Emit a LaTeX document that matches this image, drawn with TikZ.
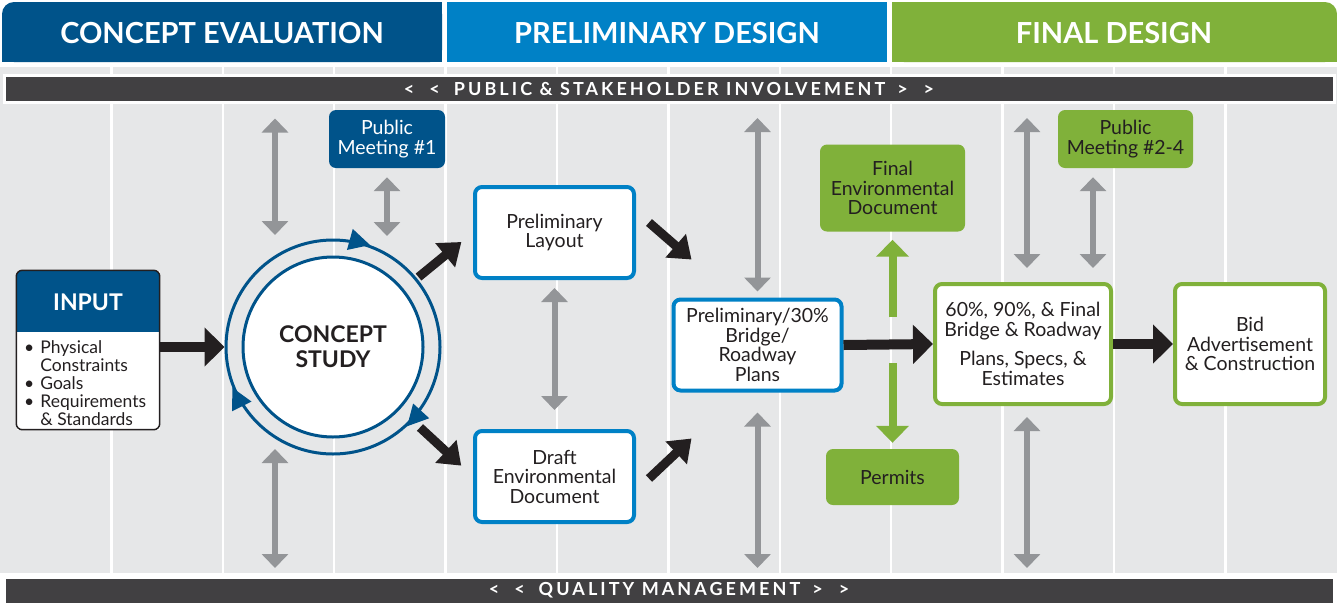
\documentclass[tikz,border=0pt]{standalone}
\usepackage{fontspec}
\setmainfont{Lato}
\newfontfamily\barfont{Lato}[LetterSpace=17]
\usetikzlibrary{positioning,arrows.meta}

\definecolor{cdark}{HTML}{00538A}
\definecolor{cmid}{HTML}{0081C6}
\definecolor{cgreen}{HTML}{80B13A}
\definecolor{cbar}{HTML}{414042}
\definecolor{cbg}{HTML}{E6E7E8}
\definecolor{cgray}{HTML}{939598}
\definecolor{ctext}{HTML}{231F20}

\begin{document}
\begin{tikzpicture}[x=1pt, y=-1pt,
    tabtext/.style={text=white, font=\bfseries\fontsize{29}{30}\selectfont},
    barnode/.style={rectangle, fill=cbar, draw=white, line width=3pt, minimum width=1330pt, minimum height=27pt, text=white, font=\barfont\bfseries\fontsize{18}{19}\selectfont},
    boxnode/.style={rectangle, rounded corners=7pt, fill=white, line width=4pt, align=center, text=ctext, inner sep=0pt, font=\fontsize{19.5}{19.5}\selectfont},
    bluenode/.style={boxnode, draw=cmid, minimum width=159pt, minimum height=91pt},
    greennode/.style={boxnode, draw=cgreen, minimum width=176pt, minimum height=120pt},
    fillnode/.style={rectangle, rounded corners=7pt, align=center, inner sep=0pt, font=\fontsize{19.5}{19.5}\selectfont},
    bigarrow/.style={draw=ctext, line width=10pt, -{Triangle[width=38pt, length=20pt]}},
    diagarrow/.style={draw=ctext, line width=9pt, -{Triangle[width=30pt, length=21pt]}},
    greenarrow/.style={draw=cgreen, line width=8pt, -{Triangle[width=32pt, length=17pt]}},
    twoway/.style={draw=cgray, line width=6pt, {Triangle[width=26pt, length=14pt]}-{Triangle[width=26pt, length=14pt]}},
    ringtip/.style={draw=cdark, line width=3pt, -{Triangle[width=21pt, length=21pt]}}]

    % background and columns
    \fill[white] (0,0) rectangle (1337,606);
    \useasboundingbox (0,0) rectangle (1337,606);
    \fill[cbg] (0,67) rectangle (1337,573);
    \foreach \k in {1,...,11}
        \draw[white, line width=2.5pt] ({111.4*\k},67) -- ({111.4*\k},573);

    % phase tabs
    \fill[cdark, rounded corners=12pt] (2,2) rectangle (442,62);
    \fill[cdark] (16,2) rectangle (442,62);
    \fill[cdark] (2,16) rectangle (442,62);
    \fill[cmid] (447,2) rectangle (887,62);
    \fill[cgreen, rounded corners=12pt] (892,2) rectangle (1337,62);
    \fill[cgreen] (892,2) rectangle (1323,62);
    \fill[cgreen] (892,16) rectangle (1337,62);
    \node[tabtext] (hconcept) at (222,33) {CONCEPT EVALUATION};
    \node[tabtext] (hprelim) at (667,33) {PRELIMINARY DESIGN};
    \node[tabtext] (hfinal) at (1114,33) {FINAL DESIGN};

    % bars
    \node[barnode] (pubbar) at (669,89) {<\hspace{15pt}<\hspace{14pt}PUBLIC \& STAKEHOLDER INVOLVEMENT\hspace{12pt}>\hspace{16pt}>};
    \node[barnode] (qualbar) at (669,590.5) {<\hspace{15pt}<\hspace{14pt}QUALITY MANAGEMENT\hspace{12pt}>\hspace{16pt}>};

    % input
    \node[rectangle, fill=white, minimum width=143pt, minimum height=159pt] (input) at (88,350) {};
    \begin{scope}
        \clip[rounded corners=6pt] (input.south west) rectangle (input.north east);
        \fill[cdark] (input.north west) rectangle ([yshift=-62pt]input.north east);
    \end{scope}
    \draw[ctext, line width=1.5pt, rounded corners=6pt] (input.south west) rectangle (input.north east);
    \node[text=white, font=\bfseries\fontsize{23}{24}\selectfont] (intitle) at (88,302) {INPUT};
    \node[anchor=north west, inner sep=0pt, text=ctext, font=\fontsize{17.5}{17.3}\selectfont] (inlist) at (24,340)
        {\begin{tabular}{@{}l@{\hspace{6pt}}l@{}}
            \textbullet & Physical\\
                        & Constraints\\
            \textbullet & Goals\\
            \textbullet & Requirements\\
                        & \& Standards
        \end{tabular}};

    % concept study
    \node[circle, draw=cdark, line width=3pt, minimum size=214pt, inner sep=0pt] (ring) at (333,347) {};
    \node[circle, draw=cdark, fill=white, line width=3pt, minimum size=180pt, align=center, text=ctext,
          font=\bfseries\fontsize{23}{25}\selectfont] (concept) at (ring.center) {CONCEPT\\STUDY};
    \draw[ringtip] (ring.79) -- (ring.70);
    \draw[ringtip] (ring.-38) -- (ring.-47);
    \draw[ringtip] (ring.211) -- (ring.202);

    \node[fillnode, fill=cdark, text=white, minimum width=116pt, minimum height=58pt] (pm1) at (387,139) {Public\\Meeting \#1};

    % preliminary design
    \node[bluenode] (layout) at (554.5,232.5) {Preliminary\\Layout};
    \node[bluenode, below=149pt of layout] (draft) {Draft\\Environmental\\Document};
    \node[bluenode, minimum width=168pt] (prelim) at (757.5,345) {Preliminary/30\%\\Bridge/\\Roadway\\Plans};

    % final design
    \node[fillnode, fill=cgreen, text=ctext, minimum width=145pt, minimum height=87pt] (fed) at (892.5,188) {Final\\Environmental\\Document};
    \node[fillnode, fill=cgreen, text=ctext, minimum width=133pt, minimum height=56pt] (permits) at (892.5,477) {Permits};
    \node[greennode] (box60) at (1023,344) {60\%, 90\%, \& Final\\Bridge \& Roadway\\[10pt]Plans, Specs, \&\\Estimates};
    \node[greennode, right=60pt of box60, minimum width=150pt] (bid) {Bid\\Advertisement\\\& Construction};
    \node[fillnode, fill=cgreen, text=ctext, minimum width=135pt, minimum height=58pt] (pm2) at (1125.5,139) {Public\\Meeting \#2-4};

    % flow arrows
    \draw[bigarrow] (input.east |- ring.west) -- (ring.west);
    \draw[diagarrow, shorten <=2pt, shorten >=15pt] (ring) -- (layout.west);
    \draw[diagarrow, shorten <=10pt, shorten >=16pt] (ring) -- (draft.west);
    \draw[diagarrow] ([xshift=13pt, yshift=10pt]layout.east) -- ([xshift=20pt, yshift=38pt]prelim.north west);
    \draw[diagarrow] ([xshift=13pt, yshift=-2pt]draft.east) -- ([xshift=20pt, yshift=-46pt]prelim.south west);
    \draw[bigarrow] (prelim.east) -- (box60.west);
    \draw[bigarrow] (box60.east) -- (bid.west);

    \coordinate (gsplit) at (892.5,340);
    \draw[greenarrow, shorten <=23pt, shorten >=8pt] (gsplit) -- (fed.south);
    \draw[greenarrow, shorten <=23pt, shorten >=6pt] (gsplit) -- (permits.north);

    % involvement arrows
    \coordinate (colA) at (275,0);
    \coordinate (colG) at (1027,0);
    \coordinate (colH) at (1093,0);
    \draw[twoway, shorten <=14.5pt, shorten >=21pt] (pubbar.south -| colA) -- (colA |- ring.123);
    \draw[twoway, shorten <=9pt, shorten >=2.5pt] (pm1.south) -- (pm1.south |- ring.north);
    \draw[twoway, shorten <=11pt, shorten >=7.5pt] (colA |- ring.237) -- (qualbar.north -| colA);
    \draw[twoway, shorten <=8pt, shorten >=19pt] (layout.south) -- (draft.north);
    \draw[twoway, shorten <=14pt, shorten >=6pt] (pubbar.south -| prelim.north) -- (prelim.north);
    \draw[twoway, shorten <=20pt, shorten >=7.5pt] (prelim.south) -- (qualbar.north -| prelim.south);
    \draw[twoway, shorten <=14pt, shorten >=14pt] (pubbar.south -| colG) -- (colG |- box60.north);
    \draw[twoway, shorten <=9pt, shorten >=14pt] (pm2.south -| colH) -- (colH |- box60.north);
    \draw[twoway, shorten <=11pt, shorten >=7.5pt] (colG |- box60.south) -- (qualbar.north -| colG);

\end{tikzpicture}
\end{document}
